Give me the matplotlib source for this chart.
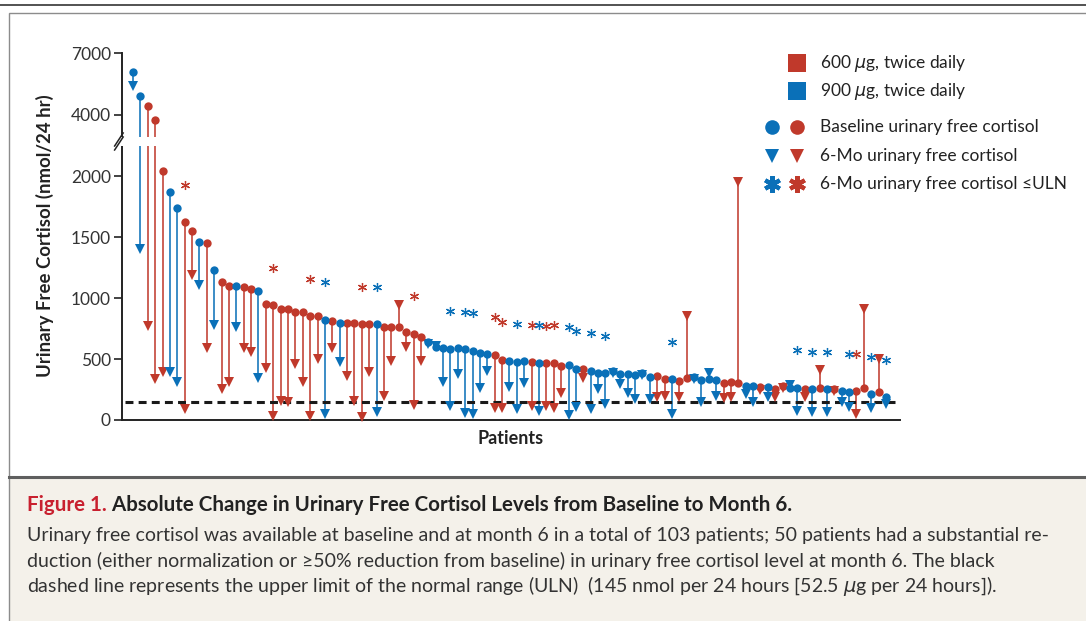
import numpy as np
import matplotlib
matplotlib.use("Agg")
import matplotlib.pyplot as plt
from matplotlib.lines import Line2D
from matplotlib.patches import Rectangle
from matplotlib.transforms import offset_copy

plt.rcParams['font.family'] = ['Lato', 'DejaVu Sans']

# R = 600 ug twice daily, B = 900 ug twice daily (patients sorted by baseline)
groups = list("BBRRRBBRRBRBRRBRRBRRRRRR"
              "RRBRBRRRRBRRRRRRBBBBBBBBBR"
              "RBBBRBRRRBBRBBBBBBBBBRRBR"
              "RBBBBRRRBBRBRRBBRBRBRBBRRBRB")

baseline = [6100, 4900, 4450, 3750, 2040, 1875, 1740, 1625, 1555, 1465,
            1450, 1230, 1130, 1100, 1100, 1090, 1075, 1055, 955, 940,
            915, 915, 885, 885, 850, 855, 822, 814, 800, 800,
            800, 788, 788, 784, 760, 760, 760, 726, 710, 683,
            640, 600, 595, 584, 595, 581, 567, 554, 540, 535,
            493, 488, 480, 488, 474, 472, 466, 472, 444, 452,
            419, 417, 403, 389, 384, 400, 378, 376, 370, 384,
            351, 362, 337, 335, 323, 345, 352, 329, 335, 329,
            302, 315, 302, 280, 282, 270, 269, 255, 282, 261,
            266, 252, 252, 266, 252, 252, 241, 233, 238, 261,
            211, 228, 187]

month6 = [5400, 1405, 775, 335, 390, 390, 315, 88, 1190, 1105,
          590, 780, 252, 315, 762, 590, 557, 348, 425, 33,
          156, 150, 461, 310, 33, 504, 47, 595, 480, 362,
          159, 27, 398, 63, 197, 485, 943, 598, 123, 488,
          625, 610, 315, 118, 376, 55, 49, 266, 403, 102,
          101, 269, 90, 302, 115, 77, 118, 96, 225, 41,
          104, 343, 88, 252, 129, 385, 296, 219, 173, 370,
          173, 189, 195, 47, 192, 850, 340, 151, 384, 197,
          178, 186, 1950, 214, 150, 245, 192, 186, 262, 290,
          77, 186, 69, 411, 69, 240, 151, 104, 49, 910,
          96, 502, 130]

ULN = 145
yticks = [0, 500, 1000, 1500, 2000, 4000, 7000]

RED = "#c0392b"
BLUE = "#0a70b8"
col = {"R": RED, "B": BLUE}
ASTER = (6, 2, 0)  # six-armed asterisk

W, H = 1086, 621
fig = plt.figure(figsize=(W / 100, H / 100), dpi=100)


def fx(px):
    return px / W


def fy(py):
    return 1 - py / H


# page frame and caption box (drawn behind everything)
fig.add_artist(Rectangle((fx(9), -0.01), 1.2, fy(477) + 0.01, fc="#f4f1ea", ec="none", zorder=-10))
fig.add_artist(Rectangle((fx(9), -0.01), 1.2, fy(13) + 0.01, fill=False, ec="#8c8c8c", lw=1.0, zorder=-9))
fig.add_artist(Line2D([fx(9), 1], [fy(477)] * 2, color="#5f5f5f", lw=2.2, zorder=-8))
fig.add_artist(Line2D([0, 1], [fy(5)] * 2, color="#444444", lw=1.3))

ax = fig.add_axes([fx(122), fy(420), fx(900) - fx(122), fy(53) - fy(420)])

# broken y axis: compressed above 2200
BRK, RATIO = 2200, 0.1693


def fwd(v):
    v = np.asarray(v, float)
    return np.where(v <= BRK, v, BRK + (v - BRK) * RATIO)


def inv(t):
    t = np.asarray(t, float)
    return np.where(t <= BRK, t, BRK + (t - BRK) / RATIO)


ax.set_yscale('function', functions=(fwd, inv))
ax.set_ylim(0, 7000)
ax.set_xlim(-0.49, 104.9)

x = np.arange(1, len(baseline) + 1)
base = np.array(baseline)
m6 = np.array(month6)
g = np.array(groups)

for key in ["R", "B"]:
    sel = g == key
    ax.vlines(x[sel], base[sel], m6[sel], colors=col[key], lw=1.4, alpha=0.8, zorder=2)

ax.axhline(ULN, xmin=0.004, xmax=0.996, color="#1a1a1a", lw=2.2,
           ls=(0, (2.6, 1.7)), zorder=3)

star_tr = offset_copy(ax.transData, fig=fig, x=0, y=27, units='points')
for key in ["R", "B"]:
    sel = g == key
    ax.plot(x[sel], m6[sel], 'v', color=col[key], ms=6.5, mew=0, zorder=4, clip_on=False)
    ax.plot(x[sel], base[sel], 'o', color=col[key], ms=6, mew=0, zorder=5, clip_on=False)
    ss = sel & (m6 <= ULN)
    ax.plot(x[ss], base[ss], marker=ASTER, ls="none", color=col[key], ms=6.5, mew=0.9,
            zorder=5, transform=star_tr, clip_on=False)

# white gap and break marks on the y axis
def af(py):
    return (420 - py) / 367


ax.add_patch(Rectangle((-0.02, af(146)), 0.12, af(137) - af(146), transform=ax.transAxes,
                       fc="white", ec="none", zorder=3.5, clip_on=False))
for dy in [0, 4]:
    ax.plot([-0.0095, 0.0015], [af(150 - dy), af(137 - dy)], color="#222222", lw=1.1,
            transform=ax.transAxes, clip_on=False, zorder=4)

for s in ["top", "right"]:
    ax.spines[s].set_visible(False)
for s in ["left", "bottom"]:
    ax.spines[s].set_linewidth(1.4)
    ax.spines[s].set_color("#222222")

ax.set_xticks([])
ax.set_yticks(yticks)
ax.set_yticklabels([str(t) for t in yticks])
ax.tick_params(axis='y', length=6, width=1.2, labelsize=12.5, pad=2,
               color="#222222", labelcolor="#333333")
ax.minorticks_off()

fig.text(fx(45), fy(236), "Urinary Free Cortisol (nmol/24 hr)", rotation=90,
         ha="center", va="center", fontsize=13.4, weight="bold", color="#222222")
fig.text(fx(511), fy(438), "Patients", ha="center", va="center", fontsize=13,
         weight="bold", color="#222222")

# legend
def mk(px, py, marker, color, ms, mew=0):
    fig.add_artist(Line2D([fx(px)], [fy(py)], marker=marker, color=color, ms=ms,
                          mew=mew, ls="none"))


mk(797, 63, 's', RED, 12.5)
mk(797, 91, 's', BLUE, 12.5)
for px, c in [(772, BLUE), (797, RED)]:
    mk(px, 127, 'o', c, 10.5)
    mk(px, 156, 'v', c, 10.5)
    mk(px, 184, ASTER, c, 12, mew=3)

leg_text = ["600 $\\mu$g, twice daily", "900 $\\mu$g, twice daily",
            "Baseline urinary free cortisol", "6-Mo urinary free cortisol",
            "6-Mo urinary free cortisol \u2264ULN"]
for py, t in zip([63, 91, 127, 156, 184], leg_text):
    fig.text(fx(820), fy(py), t, ha="left", va="center", fontsize=12.5, color="#222222")

# caption
t1 = fig.text(fx(27), fy(505), "Figure 1.", ha="left", va="center", fontsize=14.8,
              weight="bold", color="#c8202f")
ax.annotate(" Absolute Change in Urinary Free Cortisol Levels from Baseline to Month 6.",
            xy=(1, 0), xycoords=t1, ha="left", va="bottom", fontsize=14.8,
            weight="bold", color="#222222", annotation_clip=False)

body = ["Urinary free cortisol was available at baseline and at month 6 in a total of 103 patients; "
        "50 patients had a substantial re-",
        "duction (either normalization or \u226550% reduction from baseline) in urinary free "
        "cortisol level at month 6. The black",
        "dashed line represents the upper limit of the normal range (ULN)  (145 nmol per 24 hours "
        "[52.5 $\\mu$g per 24 hours])."]
for py, t in zip([535, 561, 586], body):
    fig.text(fx(27), fy(py), t, ha="left", va="center", fontsize=14, color="#333333")

fig.savefig("out.png", dpi=100)
